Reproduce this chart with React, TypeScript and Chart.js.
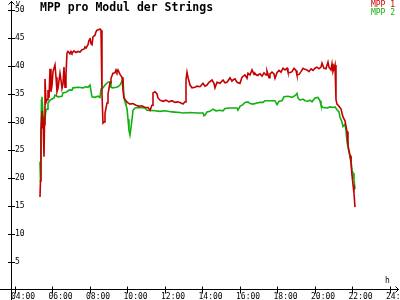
import React, { useEffect, useRef } from 'react';
import { Chart, registerables } from 'chart.js';

Chart.register(...registerables);

const TITLE = 'MPP pro Modul der Strings';
const SERIES_NAMES = ['MPP 1', 'MPP 2'];
const SERIES_COLORS = ['#c40000', '#10b010'];
const Y_UNIT = 'v';
const X_UNIT = 'h';
const Y_TICKS = [0, 5, 10, 15, 20, 25, 30, 35, 40, 45, 50];
const X_TICKS = [4, 6, 8, 10, 12, 14, 16, 18, 20, 22, 24];
const X_MIN = 3.787;
const X_MAX = 24.427;
const Y_MIN = 0;
const Y_MAX = 50;

// [hour of day, volts]
const mpp1: [number, number][] = [
  [5.333, 16.6], [5.36, 19.5], [5.387, 28.6], [5.44, 32.0], [5.467, 29.0], [5.493, 31.0],
  [5.547, 23.8], [5.573, 29.5], [5.6, 37.7], [5.653, 33.5], [5.707, 34.0], [5.76, 35.7],
  [5.813, 34.3], [5.867, 39.5], [5.92, 35.4], [5.973, 36.5], [6.027, 39.0], [6.133, 40.2],
  [6.187, 38.0], [6.24, 35.4], [6.293, 36.0], [6.4, 38.7], [6.453, 37.5], [6.507, 36.0],
  [6.56, 36.8], [6.613, 39.8], [6.667, 36.2], [6.72, 38.5], [6.773, 42.3], [6.827, 42.6],
  [6.933, 42.2], [6.987, 42.6], [7.04, 42.3], [7.147, 42.7], [7.253, 42.4], [7.36, 42.6],
  [7.467, 42.5], [7.573, 42.9], [7.68, 43.0], [7.733, 43.4], [7.787, 43.2], [7.893, 43.8],
  [7.947, 44.6], [8.0, 45.0], [8.053, 44.0], [8.107, 43.8], [8.16, 45.2], [8.267, 45.5],
  [8.32, 46.1], [8.373, 46.4], [8.48, 46.5], [8.533, 46.6], [8.587, 46.4], [8.64, 35.0],
  [8.693, 29.8], [8.747, 30.0], [8.8, 31.5], [8.907, 33.4], [8.96, 35.0], [9.067, 37.0],
  [9.12, 37.8], [9.227, 38.7], [9.333, 38.8], [9.387, 39.3], [9.44, 38.9], [9.493, 39.3],
  [9.6, 38.5], [9.707, 38.0], [9.76, 35.7], [9.813, 34.3], [9.92, 33.8], [10.027, 33.4],
  [10.133, 33.2], [10.293, 33.3], [10.453, 33.0], [10.613, 32.8], [10.773, 32.9], [10.933, 32.6],
  [11.093, 32.6], [11.2, 32.1], [11.307, 33.0], [11.36, 35.2], [11.467, 35.4], [11.573, 35.0],
  [11.627, 34.3], [11.733, 33.9], [11.893, 33.7], [12.053, 33.9], [12.213, 33.6], [12.373, 33.8],
  [12.533, 33.5], [12.693, 33.6], [12.853, 33.4], [12.96, 33.2], [13.067, 33.6], [13.12, 37.5],
  [13.173, 38.9], [13.227, 38.0], [13.333, 36.6], [13.44, 36.1], [13.6, 36.2], [13.707, 36.4],
  [13.867, 36.3], [14.027, 36.9], [14.133, 36.4], [14.24, 36.6], [14.347, 37.1], [14.507, 37.5],
  [14.613, 36.9], [14.667, 36.1], [14.773, 37.1], [14.933, 36.9], [15.093, 37.5], [15.2, 37.0],
  [15.307, 37.1], [15.467, 37.9], [15.573, 37.3], [15.627, 37.5], [15.733, 37.7], [15.84, 37.1],
  [16.0, 36.9], [16.107, 38.0], [16.267, 38.4], [16.373, 37.8], [16.427, 38.7], [16.533, 38.4],
  [16.64, 39.3], [16.747, 38.5], [16.8, 38.7], [16.907, 38.3], [16.96, 38.4], [17.067, 38.6],
  [17.173, 38.2], [17.28, 38.8], [17.387, 38.4], [17.44, 39.1], [17.547, 37.9], [17.6, 38.6],
  [17.707, 38.9], [17.813, 38.6], [17.867, 37.8], [17.973, 38.8], [18.08, 39.2], [18.187, 38.9],
  [18.293, 39.6], [18.4, 39.3], [18.507, 39.6], [18.56, 38.9], [18.667, 38.8], [18.773, 39.0],
  [18.88, 39.6], [18.987, 39.2], [19.04, 38.4], [19.147, 38.5], [19.253, 39.0], [19.36, 39.6],
  [19.467, 39.4], [19.573, 39.3], [19.68, 39.0], [19.787, 39.5], [19.893, 39.2], [20.0, 39.6],
  [20.107, 39.8], [20.213, 39.5], [20.32, 39.8], [20.373, 40.5], [20.48, 39.6], [20.587, 39.5],
  [20.693, 40.7], [20.747, 39.8], [20.853, 39.3], [20.907, 40.4], [20.96, 39.0], [21.013, 39.5],
  [21.067, 40.2], [21.12, 34.0], [21.173, 33.2], [21.28, 32.8], [21.387, 32.3], [21.493, 30.9],
  [21.6, 30.2], [21.707, 28.3], [21.76, 25.8], [21.867, 24.0], [21.92, 22.7], [21.973, 20.5],
  [22.027, 18.8], [22.08, 17.3], [22.133, 14.8],
];

const mpp2: [number, number][] = [
  [5.333, 22.9], [5.36, 19.3], [5.413, 33.9], [5.44, 34.5], [5.493, 31.5], [5.547, 29.1],
  [5.6, 30.7], [5.653, 32.1], [5.707, 32.3], [5.76, 33.4], [5.867, 33.9], [5.973, 34.1],
  [6.08, 34.3], [6.133, 34.8], [6.293, 34.5], [6.507, 34.6], [6.56, 35.2], [6.72, 35.3],
  [6.88, 35.7], [7.04, 35.7], [7.093, 36.1], [7.36, 36.2], [7.627, 36.1], [7.787, 36.3],
  [7.893, 36.2], [8.0, 36.6], [8.053, 35.5], [8.107, 34.5], [8.267, 34.4], [8.427, 34.6],
  [8.533, 34.4], [8.587, 35.9], [8.693, 36.1], [8.8, 36.6], [8.96, 37.1], [9.067, 37.2],
  [9.12, 36.2], [9.227, 36.1], [9.387, 36.2], [9.493, 36.3], [9.6, 36.6], [9.707, 37.3],
  [9.76, 37.6], [9.813, 34.3], [9.867, 33.6], [9.92, 33.0], [9.973, 32.4], [10.027, 30.5],
  [10.08, 28.5], [10.133, 27.7], [10.187, 29.0], [10.24, 30.4], [10.293, 32.1], [10.4, 32.5],
  [10.667, 32.6], [10.933, 32.5], [11.04, 32.1], [11.467, 32.0], [11.733, 31.9], [12.0, 32.0],
  [12.373, 31.8], [12.8, 31.7], [12.96, 31.6], [13.333, 31.7], [13.707, 31.6], [14.027, 31.6],
  [14.08, 31.1], [14.133, 31.2], [14.24, 31.8], [14.4, 31.9], [14.56, 32.3], [14.72, 32.0],
  [14.933, 32.1], [15.093, 32.0], [15.2, 32.4], [15.467, 32.5], [15.84, 32.5], [15.893, 32.1],
  [16.0, 32.8], [16.16, 33.1], [16.267, 33.5], [16.427, 33.6], [16.533, 33.3], [16.693, 33.2],
  [16.907, 33.4], [17.067, 33.5], [17.227, 33.5], [17.333, 33.8], [17.6, 33.8], [17.867, 33.8],
  [17.973, 33.1], [18.08, 33.7], [18.24, 33.8], [18.347, 34.5], [18.56, 34.6], [18.773, 34.4],
  [18.933, 34.7], [19.04, 35.1], [19.093, 34.3], [19.2, 33.9], [19.36, 34.1], [19.467, 33.8],
  [19.627, 33.7], [19.733, 33.9], [19.84, 33.6], [20.0, 34.3], [20.16, 34.4], [20.267, 33.8],
  [20.32, 33.0], [20.427, 32.6], [20.64, 32.5], [20.8, 32.7], [20.96, 32.6], [21.067, 32.7],
  [21.173, 32.2], [21.28, 31.8], [21.333, 30.9], [21.44, 30.0], [21.493, 29.2], [21.6, 29.6],
  [21.653, 28.5], [21.707, 26.5], [21.76, 25.5], [21.867, 23.8], [21.92, 23.2], [21.973, 21.4],
  [22.027, 20.9], [22.08, 19.8], [22.133, 18.0],
];

const MONO = '"DejaVu Sans Mono", "Liberation Mono", monospace';

const decorPlugin = {
  id: 'decor',
  afterDraw(chart: any) {
    const { ctx, chartArea: a, scales } = chart;
    const xs = scales.x;
    const ys = scales.y;
    ctx.save();
    ctx.strokeStyle = '#000';
    ctx.lineWidth = 1;
    const ax = Math.round(a.left) + 0.5;
    const ay = Math.round(a.bottom) - 0.5;
    ctx.beginPath();
    // y axis with arrow
    ctx.moveTo(ax, 1);
    ctx.lineTo(ax, chart.height);
    ctx.moveTo(ax - 3, 4.5);
    ctx.lineTo(ax, 1.5);
    ctx.lineTo(ax + 3, 4.5);
    // x axis with arrow
    ctx.moveTo(0, ay);
    ctx.lineTo(chart.width - 1, ay);
    ctx.moveTo(chart.width - 4.5, ay - 3);
    ctx.lineTo(chart.width - 1.5, ay);
    ctx.lineTo(chart.width - 4.5, ay + 3);
    // tick marks
    Y_TICKS.forEach((v) => {
      if (v === Y_MIN) return;
      const py = Math.round(ys.getPixelForValue(v)) + 0.5;
      ctx.moveTo(ax - 3.5, py);
      ctx.lineTo(ax + 3.5, py);
    });
    X_TICKS.forEach((v) => {
      const px = Math.round(xs.getPixelForValue(v)) + 0.5;
      ctx.moveTo(px, ay - 3);
      ctx.lineTo(px, ay + 4);
    });
    ctx.stroke();

    // title
    ctx.fillStyle = '#000';
    ctx.textBaseline = 'alphabetic';
    ctx.textAlign = 'left';
    ctx.font = `bold 11.5px ${MONO}`;
    ctx.fillText(TITLE, 40, 11);

    // units
    ctx.font = `8px ${MONO}`;
    ctx.fillText(Y_UNIT, ax + 4, 6);
    ctx.fillText(X_UNIT, 385, ay - 7);

    // legend
    ctx.textAlign = 'right';
    SERIES_NAMES.forEach((name, i) => {
      ctx.fillStyle = SERIES_COLORS[i];
      ctx.fillText(name, 395, 7 + i * 8);
    });
    ctx.restore();
  },
};

export default function App() {
  const ref = useRef<HTMLCanvasElement | null>(null);

  useEffect(() => {
    document.body.style.margin = '0';
    const canvas = ref.current;
    if (!canvas) return;
    const toPoints = (s: [number, number][]) => s.map(([x, y]) => ({ x, y }));
    const chart = new Chart(canvas, {
      type: 'line',
      data: {
        datasets: [
          {
            label: SERIES_NAMES[0],
            data: toPoints(mpp1),
            borderColor: SERIES_COLORS[0],
            backgroundColor: SERIES_COLORS[0],
            borderWidth: 1.6,
            pointRadius: 0,
            tension: 0,
            fill: false,
          },
          {
            label: SERIES_NAMES[1],
            data: toPoints(mpp2),
            borderColor: SERIES_COLORS[1],
            backgroundColor: SERIES_COLORS[1],
            borderWidth: 1.6,
            pointRadius: 0,
            tension: 0,
            fill: false,
          },
        ],
      },
      options: {
        responsive: false,
        animation: false,
        layout: { padding: { top: 10, right: 2, left: 0, bottom: 0 } },
        plugins: {
          legend: { display: false },
          tooltip: { enabled: false },
          title: { display: false },
        },
        scales: {
          x: {
            type: 'linear',
            min: X_MIN,
            max: X_MAX,
            afterBuildTicks: (s: any) => {
              s.ticks = X_TICKS.map((value) => ({ value }));
            },
            afterFit: (s: any) => {
              s.height = 10;
              s.paddingLeft = 0;
              s.paddingRight = 0;
            },
            grid: { display: false, drawTicks: false },
            border: { display: false },
            ticks: {
              autoSkip: false,
              maxRotation: 0,
              minRotation: 0,
              align: 'start',
              labelOffset: -4,
              padding: 2,
              color: '#000',
              font: { family: MONO, size: 8 },
              callback: (v: any) => String(v).padStart(2, '0') + ':00',
            },
          },
          y: {
            type: 'linear',
            min: Y_MIN,
            max: Y_MAX,
            afterBuildTicks: (s: any) => {
              s.ticks = Y_TICKS.map((value) => ({ value }));
            },
            afterFit: (s: any) => {
              s.width = 11;
              s.paddingTop = 0;
              s.paddingBottom = 0;
            },
            grid: { display: false, drawTicks: false },
            border: { display: false },
            ticks: {
              mirror: true,
              padding: 4,
              color: '#000',
              font: { family: MONO, size: 8 },
              callback: (v: any) => (v === Y_MIN ? '' : String(v)),
            },
          },
        },
      },
      plugins: [decorPlugin],
    });
    return () => chart.destroy();
  }, []);

  return <canvas ref={ref} width={400} height={300} style={{ display: 'block' }} />;
}
